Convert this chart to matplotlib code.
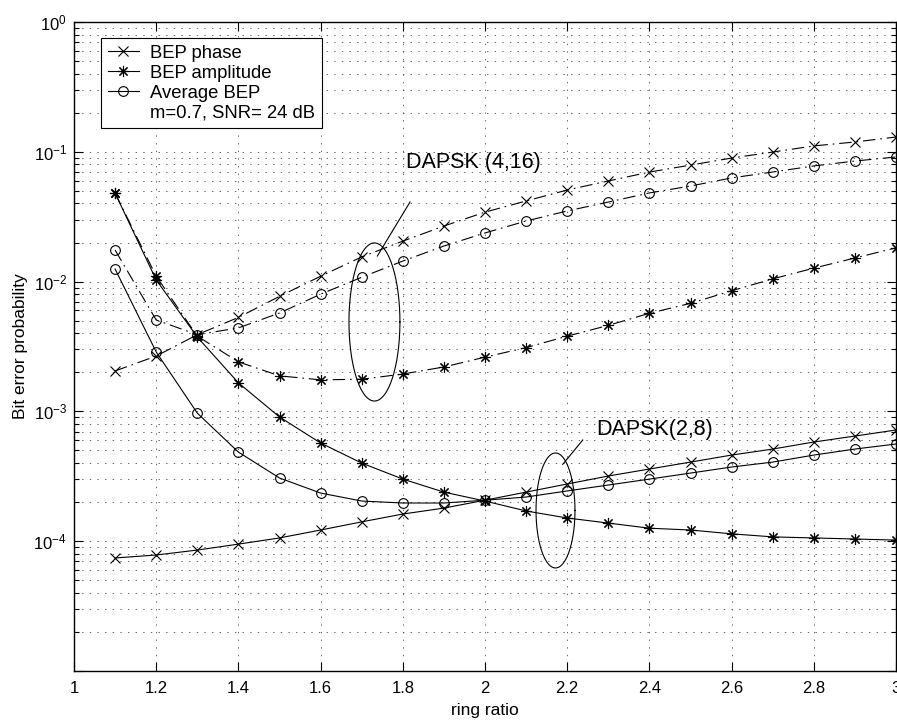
import numpy as np
import matplotlib
matplotlib.use("Agg")
import matplotlib.pyplot as plt
from matplotlib.lines import Line2D
from matplotlib.ticker import FixedLocator, NullFormatter

plt.rcParams['font.family'] = ['Liberation Sans', 'DejaVu Sans']
plt.rcParams['mathtext.fontset'] = 'custom'
plt.rcParams['mathtext.rm'] = 'Liberation Sans'
plt.rcParams['mathtext.default'] = 'regular'
plt.rcParams['lines.scale_dashes'] = False

# ring ratio values at which the BEP was evaluated
ring_ratio = [1.1, 1.2, 1.3, 1.4, 1.5, 1.6, 1.7, 1.8, 1.9, 2.0,
              2.1, 2.2, 2.3, 2.4, 2.5, 2.6, 2.7, 2.8, 2.9, 3.0]

# DAPSK(4,16)
bep_phase_416 = [2.05e-3, 2.67e-3, 3.9e-3, 5.3e-3, 7.7e-3, 1.10e-2, 1.55e-2, 2.05e-2, 2.68e-2, 3.43e-2,
                 4.18e-2, 5.08e-2, 5.96e-2, 6.98e-2, 7.9e-2, 8.95e-2, 9.95e-2, 0.111, 0.119, 0.130]
bep_amp_416 = [4.8e-2, 1.1e-2, 3.8e-3, 2.41e-3, 1.88e-3, 1.75e-3, 1.77e-3, 1.94e-3, 2.2e-3, 2.62e-3,
               3.1e-3, 3.8e-3, 4.6e-3, 5.7e-3, 6.8e-3, 8.5e-3, 1.05e-2, 1.27e-2, 1.52e-2, 1.82e-2]
bep_avg_416 = [1.75e-2, 5.06e-3, 3.9e-3, 4.4e-3, 5.73e-3, 8.0e-3, 1.08e-2, 1.44e-2, 1.88e-2, 2.37e-2,
               2.93e-2, 3.5e-2, 4.1e-2, 4.82e-2, 5.45e-2, 6.29e-2, 6.99e-2, 7.78e-2, 8.49e-2, 9.12e-2]

# DAPSK(2,8)
bep_phase_28 = [7.43e-5, 7.83e-5, 8.55e-5, 9.5e-5, 1.06e-4, 1.22e-4, 1.41e-4, 1.62e-4, 1.80e-4, 2.07e-4,
                2.39e-4, 2.76e-4, 3.18e-4, 3.6e-4, 4.07e-4, 4.61e-4, 5.13e-4, 5.81e-4, 6.46e-4, 7.19e-4]
bep_amp_28 = [4.8e-2, 1.03e-2, 3.74e-3, 1.66e-3, 9.06e-4, 5.71e-4, 4.0e-4, 3.01e-4, 2.39e-4, 2.04e-4,
              1.71e-4, 1.51e-4, 1.38e-4, 1.26e-4, 1.22e-4, 1.14e-4, 1.08e-4, 1.06e-4, 1.04e-4, 1.02e-4]
bep_avg_28 = [1.25e-2, 2.87e-3, 9.7e-4, 4.86e-4, 3.07e-4, 2.35e-4, 2.04e-4, 1.97e-4, 1.97e-4, 2.07e-4,
              2.19e-4, 2.44e-4, 2.71e-4, 3.01e-4, 3.35e-4, 3.73e-4, 4.07e-4, 4.61e-4, 5.13e-4, 5.61e-4]

legend_labels = ['BEP phase', 'BEP amplitude', 'Average BEP', 'm=0.7, SNR= 24 dB']

x_ticks = [1, 1.2, 1.4, 1.6, 1.8, 2, 2.2, 2.4, 2.6, 2.8, 3]
y_ticks = [1e-5, 1e-4, 1e-3, 1e-2, 1e-1, 1e0]
y_ticklabels = ['', r'$10^{-4}$', r'$10^{-3}$', r'$10^{-2}$', r'$10^{-1}$', r'$10^{0}$']

# ellipses marking each group: centre (ratio, log10 BEP), half-width, half-height in decades
ellipse_416 = (1.731, -2.311, 0.062, 0.609)
ellipse_28 = (2.1715, -3.763, 0.0474, 0.443)
pointer_416 = ([1.738, 1.8175], [-1.803, -1.387])
pointer_28 = ([2.189, 2.238], [-3.408, -3.220])

asterisk = (8, 2, 0)
dashdot = (0, (9, 3.5, 1.2, 3.5))
line_kw = dict(color='black', lw=0.8, mew=0.8, mfc='none')

fig = plt.figure(figsize=(8.97, 7.21), dpi=100)
ax = fig.add_axes([0.0825, 0.0693, 0.9164, 0.9002])

ax.plot(ring_ratio, bep_phase_416, linestyle=dashdot, marker='x', ms=6.5, **line_kw)
ax.plot(ring_ratio, bep_amp_416, linestyle=dashdot, marker=asterisk, ms=8, **line_kw)
ax.plot(ring_ratio, bep_avg_416, linestyle=dashdot, marker='o', ms=7, **line_kw)
h1, = ax.plot(ring_ratio, bep_phase_28, linestyle='-', marker='x', ms=6.5, **line_kw)
h2, = ax.plot(ring_ratio, bep_amp_28, linestyle='-', marker=asterisk, ms=8, **line_kw)
h3, = ax.plot(ring_ratio, bep_avg_28, linestyle='-', marker='o', ms=7, **line_kw)

# group ellipses drawn in (ratio, log10) space
t = np.linspace(0, 2 * np.pi, 200)
for cx, cy, a, b in [ellipse_416, ellipse_28]:
    ax.plot(cx + a * np.cos(t), 10 ** (cy + b * np.sin(t)), color='black', lw=0.8)
for px, py in [pointer_416, pointer_28]:
    ax.plot(px, 10 ** np.array(py), color='black', lw=0.8)

ax.text(1.807, 10 ** -1.086, 'DAPSK (4,16)', fontsize=15.5, va='center', ha='left')
ax.text(2.27, 10 ** -3.136, 'DAPSK(2,8)', fontsize=15.5, va='center', ha='left')

ax.set_yscale('log')
ax.set_xlim(1, 3)
ax.set_ylim(1e-5, 1e0)
ax.set_xticks(x_ticks)
ax.set_xticklabels([f'{v:g}' for v in x_ticks])
ax.yaxis.set_major_locator(FixedLocator(y_ticks))
ax.set_yticklabels(y_ticklabels)
minor = [m * 10.0 ** e for e in range(-5, 0) for m in range(2, 10)]
ax.yaxis.set_minor_locator(FixedLocator(minor))
ax.yaxis.set_minor_formatter(NullFormatter())

ax.tick_params(which='both', direction='in', top=True, right=True, labelsize=12, width=0.8)
ax.tick_params(which='major', length=6.5)
ax.tick_params(axis='x', which='major', pad=7)
ax.tick_params(axis='y', which='major', pad=5)
ax.tick_params(which='minor', length=3.5)
for sp in ax.spines.values():
    sp.set_linewidth(1.0)

grid_kw = dict(color='0.3', lw=0.6, linestyle=(0, (1, 4.5)))
ax.grid(True, which='major', axis='x', **grid_kw)
ax.grid(True, which='both', axis='y', **grid_kw)

ax.set_xlabel('ring ratio', fontsize=12.5, labelpad=5)
ax.set_ylabel('Bit error probability', fontsize=12.5, labelpad=4)

blank = Line2D([], [], linestyle='none', marker='none')
leg = ax.legend([h1, h2, h3, blank], legend_labels, loc='upper left',
                bbox_to_anchor=(0.0328, 0.9753), borderaxespad=0, fontsize=13.3,
                frameon=True, fancybox=False, framealpha=1, edgecolor='black',
                handlelength=1.7, handletextpad=0.6, labelspacing=0.16, borderpad=0.36)
leg.get_frame().set_linewidth(0.8)

fig.savefig('out.png', dpi=100)
